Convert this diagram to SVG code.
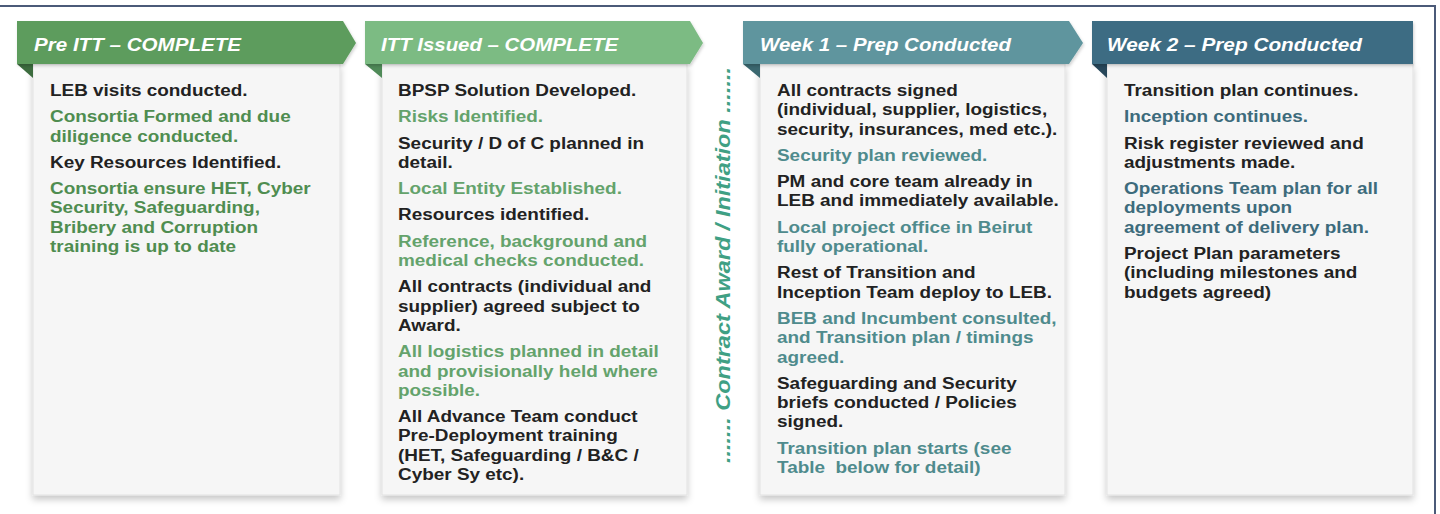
<svg xmlns="http://www.w3.org/2000/svg" width="1440" height="514" viewBox="0 0 1440 514">
  <defs>
    <filter id="cardShadow" x="-10%" y="-10%" width="120%" height="120%">
      <feDropShadow dx="0" dy="4" stdDeviation="3.5" flood-color="#000" flood-opacity="0.22"/>
    </filter>
    <filter id="bannerShadow" x="-5%" y="-20%" width="110%" height="150%">
      <feDropShadow dx="1" dy="2" stdDeviation="1.5" flood-color="#000" flood-opacity="0.18"/>
    </filter>
  </defs>
  <style>
    .body { fill: #f6f6f6; stroke: #e2e2e2; stroke-width: 1; }
    .title { font-family: "Liberation Sans", Arial, sans-serif; font-weight: 700; font-style: italic; font-size: 18.5px; fill: #ffffff; }
    .txt { font-family: "Liberation Sans", Arial, sans-serif; font-weight: 700; font-size: 17.2px; }
    .k { fill: #222222; }
    .g1 { fill: #4f8d50; }
    .g2 { fill: #64a36c; }
    .t3 { fill: #4f8b8d; }
    .b4 { fill: #3d6b7c; }
    .vlabel { font-family: "Liberation Sans", Arial, sans-serif; font-weight: 700; font-style: italic; font-size: 20px; fill: #3fa084; }
  </style>

  <rect x="0" y="0" width="1440" height="514" fill="#ffffff"/>

  <!-- frame edges -->
  <g id="frame" fill="none" stroke="#4b5a78" stroke-width="2">
    <line x1="0" y1="6" x2="1436" y2="6"/>
    <line x1="1435" y1="6" x2="1435" y2="514"/>
  </g>

  <!-- column 1 -->
  <g id="pre-itt">
    <rect class="body" x="33" y="64" width="307" height="431" filter="url(#cardShadow)"/>
    <polygon points="17,64 33,64 33,78" fill="#3c6c3e"/>
    <polygon points="17,21 343,21 356,43 343,64 17,64" fill="#5d9c5d" filter="url(#bannerShadow)"/>
    <text class="title" x="34" y="50.5" textLength="207" lengthAdjust="spacingAndGlyphs">Pre ITT – COMPLETE</text>
    <g transform="translate(50,0) scale(1.1,1)">
      <text class="txt k" x="0" y="96">LEB visits conducted.</text>
      <text class="txt g1"><tspan x="0" y="122.3">Consortia Formed and due</tspan><tspan x="0" y="141.6">diligence conducted.</tspan></text>
      <text class="txt k" x="0" y="167.9">Key Resources Identified.</text>
      <text class="txt g1"><tspan x="0" y="194.2">Consortia ensure HET, Cyber</tspan><tspan x="0" y="213.5">Security, Safeguarding,</tspan><tspan x="0" y="232.8">Bribery and Corruption</tspan><tspan x="0" y="252.1">training is up to date</tspan></text>
    </g>
  </g>

  <!-- column 2 -->
  <g id="itt-issued">
    <rect class="body" x="382" y="64" width="305" height="431" filter="url(#cardShadow)"/>
    <polygon points="365,64 382,64 382,78" fill="#4f8a58"/>
    <polygon points="365,21 690,21 703,43 690,64 365,64" fill="#7cbb83" filter="url(#bannerShadow)"/>
    <text class="title" x="381" y="50.5" textLength="237" lengthAdjust="spacingAndGlyphs">ITT Issued – COMPLETE</text>
    <g transform="translate(398,0) scale(1.1,1)">
      <text class="txt k" x="0" y="96">BPSP Solution Developed.</text>
      <text class="txt g2" x="0" y="122.3">Risks Identified.</text>
      <text class="txt k"><tspan x="0" y="148.6">Security / D of C planned in</tspan><tspan x="0" y="167.9">detail.</tspan></text>
      <text class="txt g2" x="0" y="194.2">Local Entity Established.</text>
      <text class="txt k" x="0" y="220.5">Resources identified.</text>
      <text class="txt g2"><tspan x="0" y="246.8">Reference, background and</tspan><tspan x="0" y="266.1">medical checks conducted.</tspan></text>
      <text class="txt k"><tspan x="0" y="292.4">All contracts (individual and</tspan><tspan x="0" y="311.7">supplier) agreed subject to</tspan><tspan x="0" y="331">Award.</tspan></text>
      <text class="txt g2"><tspan x="0" y="357.3">All logistics planned in detail</tspan><tspan x="0" y="376.6">and provisionally held where</tspan><tspan x="0" y="395.9">possible.</tspan></text>
      <text class="txt k"><tspan x="0" y="422.2">All Advance Team conduct</tspan><tspan x="0" y="441.5">Pre-Deployment training</tspan><tspan x="0" y="460.8">(HET, Safeguarding / B&amp;C /</tspan><tspan x="0" y="480.1">Cyber Sy etc).</tspan></text>
    </g>
  </g>

  <!-- milestone between the ITT and delivery phases -->
  <g id="contract-award">
    <text class="vlabel" transform="translate(730,265) rotate(-90)" text-anchor="middle" textLength="396" lengthAdjust="spacingAndGlyphs">....... Contract Award / Initiation .......</text>
  </g>

  <!-- column 3 -->
  <g id="week-1">
    <rect class="body" x="760" y="64" width="305" height="431" filter="url(#cardShadow)"/>
    <polygon points="743,64 760,64 760,78" fill="#3a676f"/>
    <polygon points="743,21 1069,21 1083,43 1069,64 743,64" fill="#5e959e" filter="url(#bannerShadow)"/>
    <text class="title" x="760" y="50.5" textLength="251" lengthAdjust="spacingAndGlyphs">Week 1 – Prep Conducted</text>
    <g transform="translate(777,0) scale(1.1,1)">
      <text class="txt k"><tspan x="0" y="96">All contracts signed</tspan><tspan x="0" y="115.3">(individual, supplier, logistics,</tspan><tspan x="0" y="134.6">security, insurances, med etc.).</tspan></text>
      <text class="txt t3" x="0" y="160.9">Security plan reviewed.</text>
      <text class="txt k"><tspan x="0" y="187.2">PM and core team already in</tspan><tspan x="0" y="206.5">LEB and immediately available.</tspan></text>
      <text class="txt t3"><tspan x="0" y="232.8">Local project office in Beirut</tspan><tspan x="0" y="252.1">fully operational.</tspan></text>
      <text class="txt k"><tspan x="0" y="278.4">Rest of Transition and</tspan><tspan x="0" y="297.7">Inception Team deploy to LEB.</tspan></text>
      <text class="txt t3"><tspan x="0" y="324">BEB and Incumbent consulted,</tspan><tspan x="0" y="343.3">and Transition plan / timings</tspan><tspan x="0" y="362.6">agreed.</tspan></text>
      <text class="txt k"><tspan x="0" y="388.9">Safeguarding and Security</tspan><tspan x="0" y="408.2">briefs conducted / Policies</tspan><tspan x="0" y="427.5">signed.</tspan></text>
      <text class="txt t3" style="white-space:pre"><tspan x="0" y="453.8">Transition plan starts (see</tspan><tspan x="0" y="473.1">Table  below for detail)</tspan></text>
    </g>
  </g>

  <!-- column 4 -->
  <g id="week-2">
    <rect class="body" x="1107" y="64" width="306" height="431" filter="url(#cardShadow)"/>
    <polygon points="1092,64 1107,64 1107,78" fill="#27475a"/>
    <rect x="1092" y="21" width="321" height="43" fill="#3e6c83" filter="url(#bannerShadow)"/>
    <text class="title" x="1107" y="50.5" textLength="255" lengthAdjust="spacingAndGlyphs">Week 2 – Prep Conducted</text>
    <g transform="translate(1124,0) scale(1.1,1)">
      <text class="txt k" x="0" y="96">Transition plan continues.</text>
      <text class="txt b4" x="0" y="122.3">Inception continues.</text>
      <text class="txt k"><tspan x="0" y="148.6">Risk register reviewed and</tspan><tspan x="0" y="167.9">adjustments made.</tspan></text>
      <text class="txt b4"><tspan x="0" y="194.2">Operations Team plan for all</tspan><tspan x="0" y="213.5">deployments upon</tspan><tspan x="0" y="232.8">agreement of delivery plan.</tspan></text>
      <text class="txt k"><tspan x="0" y="259.1">Project Plan parameters</tspan><tspan x="0" y="278.4">(including milestones and</tspan><tspan x="0" y="297.7">budgets agreed)</tspan></text>
    </g>
  </g>
</svg>
